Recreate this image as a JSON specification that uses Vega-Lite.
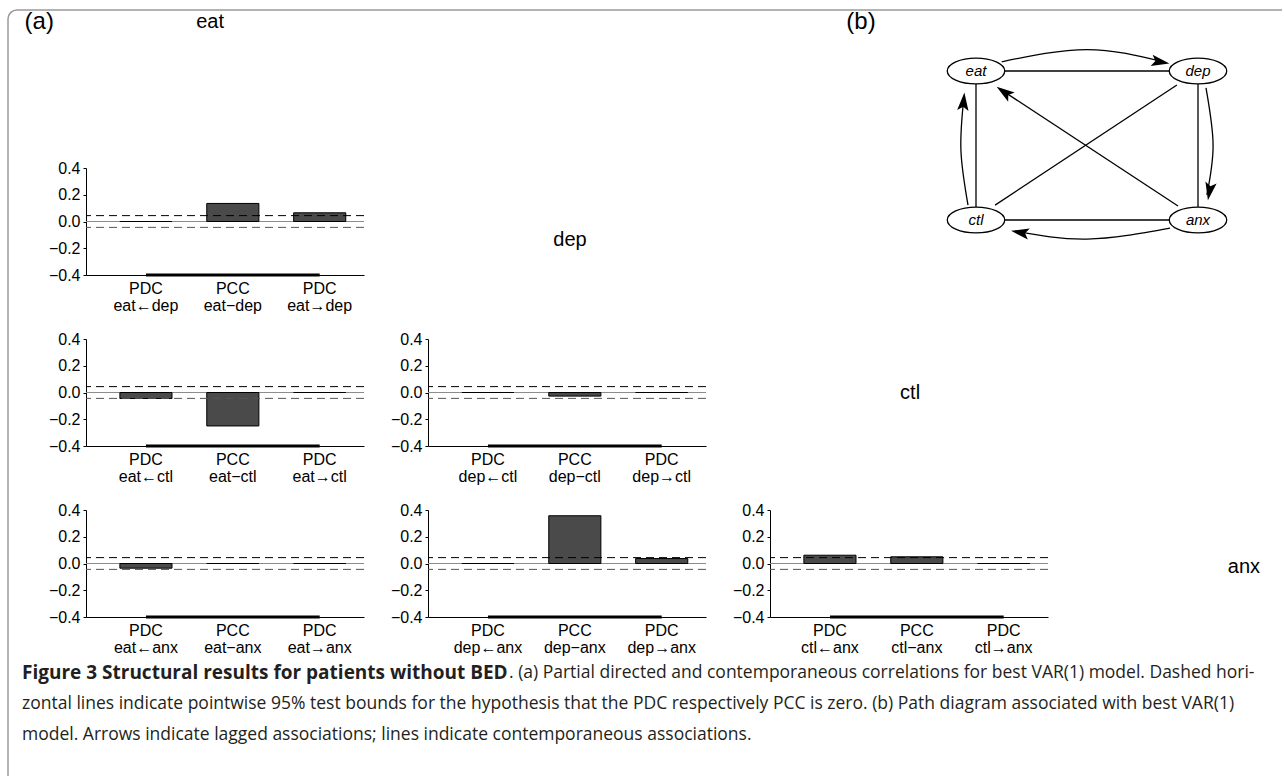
{
  "$schema": "https://vega.github.io/schema/vega-lite/v6.json",
  "padding": {"left": 7, "top": 9, "right": 0, "bottom": 0},
  "background": "white",
  "columns": 4,
  "spacing": {"row": 64, "column": 64},
  "bounds": "flush",
  "align": "each",
  "config": {
    "view": {"stroke": null},
    "axis": {"labelFont": "Liberation Sans", "labelFontSize": 16, "labelColor": "#000", "domainColor": "#000", "tickColor": "#000", "grid": false, "labelOverlap": false},
    "text": {"font": "Liberation Sans", "color": "#000"}
  },
  "datasets": {
    "bars": [
      {"pair": "eat-dep", "cat": "PDC|eat←dep", "value": 0},
      {"pair": "eat-dep", "cat": "PCC|eat−dep", "value": 0.135},
      {"pair": "eat-dep", "cat": "PDC|eat→dep", "value": 0.065},
      {"pair": "eat-ctl", "cat": "PDC|eat←ctl", "value": -0.045},
      {"pair": "eat-ctl", "cat": "PCC|eat−ctl", "value": -0.25},
      {"pair": "eat-ctl", "cat": "PDC|eat→ctl", "value": 0},
      {"pair": "dep-ctl", "cat": "PDC|dep←ctl", "value": 0},
      {"pair": "dep-ctl", "cat": "PCC|dep−ctl", "value": -0.027},
      {"pair": "dep-ctl", "cat": "PDC|dep→ctl", "value": 0},
      {"pair": "eat-anx", "cat": "PDC|eat←anx", "value": -0.035},
      {"pair": "eat-anx", "cat": "PCC|eat−anx", "value": 0},
      {"pair": "eat-anx", "cat": "PDC|eat→anx", "value": 0},
      {"pair": "dep-anx", "cat": "PDC|dep←anx", "value": 0},
      {"pair": "dep-anx", "cat": "PCC|dep−anx", "value": 0.357},
      {"pair": "dep-anx", "cat": "PDC|dep→anx", "value": 0.037},
      {"pair": "ctl-anx", "cat": "PDC|ctl←anx", "value": 0.062},
      {"pair": "ctl-anx", "cat": "PCC|ctl−anx", "value": 0.05},
      {"pair": "ctl-anx", "cat": "PDC|ctl→anx", "value": 0}
    ],
    "nodes": [
      {"name": "eat", "x": 0, "y": 1},
      {"name": "dep", "x": 1, "y": 1},
      {"name": "ctl", "x": 0, "y": 0},
      {"name": "anx", "x": 1, "y": 0}
    ],
    "edges": [
      {"e": "e1", "i": 0, "x": 0.128, "y": 1}, {"e": "e1", "i": 1, "x": 0.872, "y": 1},
      {"e": "e2", "i": 0, "x": 0.128, "y": 0}, {"e": "e2", "i": 1, "x": 0.872, "y": 0},
      {"e": "e3", "i": 0, "x": 0, "y": 0.916}, {"e": "e3", "i": 1, "x": 0, "y": 0.084},
      {"e": "e4", "i": 0, "x": 1, "y": 0.916}, {"e": "e4", "i": 1, "x": 1, "y": 0.084},
      {"e": "e5", "i": 0, "x": 0.905, "y": 0.906}, {"e": "e5", "i": 1, "x": 0.086, "y": 0.1},
      {"e": "e6", "i": 0, "x": 0.91, "y": 0.094}, {"e": "e6", "i": 1, "x": 0.108, "y": 0.879},
      {"e": "a1", "i": 0, "x": 0.116, "y": 1.062}, {"e": "a1", "i": 1, "x": 0.5, "y": 1.144}, {"e": "a1", "i": 2, "x": 0.842, "y": 1.062},
      {"e": "a2", "i": 0, "x": 1.036, "y": 0.886}, {"e": "a2", "i": 1, "x": 1.068, "y": 0.503}, {"e": "a2", "i": 2, "x": 1.04, "y": 0.168},
      {"e": "a3", "i": 0, "x": 0.874, "y": -0.054}, {"e": "a3", "i": 1, "x": 0.5, "y": -0.128}, {"e": "a3", "i": 2, "x": 0.176, "y": -0.074},
      {"e": "a4", "i": 0, "x": -0.036, "y": 0.1}, {"e": "a4", "i": 1, "x": -0.068, "y": 0.47}, {"e": "a4", "i": 2, "x": -0.054, "y": 0.832}
    ],
    "heads": [
      {"x": 0.829, "y": 1.062, "a": 100},
      {"x": 1.052, "y": 0.195, "a": 190},
      {"x": 0.2, "y": -0.084, "a": 280},
      {"x": -0.056, "y": 0.792, "a": 5},
      {"x": 0.128, "y": 0.857, "a": 305}
    ],
    "caption": [
      {"line": 1, "part": "b", "text": "Figure 3 Structural results for patients without BED"},
      {"line": 1, "part": "r", "text": ". (a) Partial directed and contemporaneous correlations for best VAR(1) model. Dashed hori-"},
      {"line": 2, "part": "l", "text": "zontal lines indicate pointwise 95% test bounds for the hypothesis that the PDC respectively PCC is zero. (b) Path diagram associated with best VAR(1)"},
      {"line": 3, "part": "l", "text": "model. Arrows indicate lagged associations; lines indicate contemporaneous associations."}
    ]
  },
  "concat": [
    {
      "width": 278, "height": 90,
      "data": {"values": [{}]},
      "layer": [
        {"mark": {"type": "rule", "color": "#9a9a9a", "strokeWidth": 1.5},
         "encoding": {"x": {"datum": 0, "type": "quantitative", "scale": {"domain": [0, 1], "range": [-78, 1196]}, "axis": null},
                      "y": {"datum": 0, "type": "quantitative", "scale": {"domain": [0, 1], "range": [762, -4]}, "axis": null},
                      "y2": {"datum": 0.98825}}},
        {"mark": {"type": "rule", "color": "#9a9a9a", "strokeWidth": 1.5},
         "encoding": {"x": {"datum": 0.00706, "type": "quantitative"}, "x2": {"datum": 1}, "y": {"datum": 1, "type": "quantitative"}}},
        {"mark": {"type": "arc", "color": "#9a9a9a", "innerRadius": 8.25, "outerRadius": 9.75, "theta": 4.7124, "theta2": 6.2832},
         "encoding": {"x": {"datum": 0.00706, "type": "quantitative"}, "y": {"datum": 0.98825, "type": "quantitative"}}},
        {"mark": {"type": "text", "fontSize": 24, "align": "center", "baseline": "middle"},
         "encoding": {"x": {"datum": 0.0245, "type": "quantitative"}, "y": {"datum": 0.9843, "type": "quantitative"}, "text": {"value": "(a)"}}},
        {"mark": {"type": "text", "fontSize": 20, "align": "center", "baseline": "middle"},
         "encoding": {"x": {"datum": 0.1586, "type": "quantitative"}, "y": {"datum": 0.9843, "type": "quantitative"}, "text": {"value": "eat"}}}
      ]
    },
    {"width": 278, "height": 90, "data": {"values": [{}]}, "mark": {"type": "point", "opacity": 0}},
    {
      "width": 278, "height": 90,
      "layer": [
        {"data": {"name": "edges"},
         "mark": {"type": "line", "color": "#000", "strokeWidth": 1.3, "interpolate": "natural"},
         "encoding": {"x": {"field": "x", "type": "quantitative", "scale": {"domain": [0, 1], "range": [206, 428]}, "axis": null},
                      "y": {"field": "y", "type": "quantitative", "scale": {"domain": [0, 1], "range": [206, 57]}, "axis": null},
                      "detail": {"field": "e"},
                      "order": {"field": "i"}}},
        {"data": {"name": "heads"},
         "mark": {"type": "point", "shape": "M0,-1L0.6,0.9L0,0.5L-0.6,0.9Z", "filled": true, "color": "#000", "size": 360, "opacity": 1},
         "encoding": {"x": {"field": "x", "type": "quantitative"}, "y": {"field": "y", "type": "quantitative"},
                      "angle": {"field": "a", "type": "quantitative", "scale": null}}},
        {"data": {"name": "nodes"},
         "mark": {"type": "point", "shape": "M-1,0A1,0.45,0,1,1,1,0A1,0.45,0,1,1,-1,0Z", "filled": true, "fill": "#fff", "stroke": "#000", "strokeWidth": 1.3, "size": 3300, "opacity": 1},
         "encoding": {"x": {"field": "x", "type": "quantitative"}, "y": {"field": "y", "type": "quantitative"}}},
        {"data": {"name": "nodes"},
         "mark": {"type": "text", "fontStyle": "italic", "fontSize": 15, "align": "center", "baseline": "middle"},
         "encoding": {"x": {"field": "x", "type": "quantitative"}, "y": {"field": "y", "type": "quantitative"}, "text": {"field": "name"}}},
        {"data": {"values": [{}]},
         "mark": {"type": "text", "fontSize": 24, "align": "center", "baseline": "middle"},
         "encoding": {"x": {"datum": -0.518, "type": "quantitative"}, "y": {"datum": 1.329, "type": "quantitative"}, "text": {"value": "(b)"}}}
      ]
    },
    {"width": 266, "height": 90, "data": {"values": [{}]}, "mark": {"type": "point", "opacity": 0}},

    {
      "width": 278, "height": 107,
      "layer": [
        {"data": {"values": [{}]}, "mark": {"type": "rule", "color": "#8c8c8c", "strokeWidth": 1},
         "encoding": {"y": {"datum": 0, "type": "quantitative", "scale": {"domain": [-0.4, 0.4], "nice": false},
                            "axis": {"title": null, "values": [-0.4, -0.2, 0, 0.2, 0.4], "tickCount": 5, "format": ".1f", "tickSize": 3, "labelPadding": 3, "labelOverlap": false}}}},
        {"data": {"name": "bars"}, "transform": [{"filter": "datum.pair === 'eat-dep'"}],
         "mark": {"type": "bar", "fill": "#4a4a4a", "stroke": "#000", "strokeWidth": 1},
         "encoding": {
           "x": {"field": "cat", "type": "nominal", "sort": null, "scale": {"paddingInner": 0.4, "paddingOuter": 0.3, "align": 0.65},
                 "axis": {"title": null, "labelAngle": 0, "labelExpr": "split(datum.label, '|')", "labelPadding": 5, "labelLineHeight": 17, "ticks": false}},
           "y": {"field": "value", "type": "quantitative",
                 "axis": {"title": null, "values": [-0.4, -0.2, 0, 0.2, 0.4], "tickCount": 5, "format": ".1f", "tickSize": 3, "labelPadding": 3, "labelOverlap": false}}}},
        {"data": {"values": [{}]}, "mark": {"type": "rule", "color": "#000", "strokeDash": [8, 5], "strokeWidth": 1}, "encoding": {"y": {"datum": 0.044, "type": "quantitative"}}},
        {"data": {"values": [{}]}, "mark": {"type": "rule", "color": "#555", "strokeDash": [8, 5], "strokeWidth": 1}, "encoding": {"y": {"datum": -0.044, "type": "quantitative"}}},
        {"data": {"name": "bars"}, "transform": [{"filter": "datum.pair === 'eat-dep'"}],
         "mark": {"type": "line", "color": "#000", "strokeWidth": 3},
         "encoding": {"x": {"field": "cat", "type": "nominal", "sort": null, "axis": {"title": null}}, "y": {"datum": -0.4, "type": "quantitative"}}}
      ]
    },
    {"width": 278, "height": 107, "data": {"values": [{}]},
     "mark": {"type": "text", "fontSize": 20, "align": "center", "baseline": "middle"},
     "encoding": {"x": {"datum": 0.511, "type": "quantitative", "scale": {"domain": [0, 1]}, "axis": null},
                  "y": {"datum": 0.327, "type": "quantitative", "scale": {"domain": [0, 1]}, "axis": null},
                  "text": {"value": "dep"}}},
    {"width": 278, "height": 107, "data": {"values": [{}]}, "mark": {"type": "point", "opacity": 0}},
    {"width": 266, "height": 107, "data": {"values": [{}]}, "mark": {"type": "point", "opacity": 0}},

    {
      "width": 278, "height": 107,
      "layer": [
        {"data": {"values": [{}]}, "mark": {"type": "rule", "color": "#8c8c8c", "strokeWidth": 1},
         "encoding": {"y": {"datum": 0, "type": "quantitative", "scale": {"domain": [-0.4, 0.4], "nice": false},
                            "axis": {"title": null, "values": [-0.4, -0.2, 0, 0.2, 0.4], "tickCount": 5, "format": ".1f", "tickSize": 3, "labelPadding": 3, "labelOverlap": false}}}},
        {"data": {"name": "bars"}, "transform": [{"filter": "datum.pair === 'eat-ctl'"}],
         "mark": {"type": "bar", "fill": "#4a4a4a", "stroke": "#000", "strokeWidth": 1},
         "encoding": {
           "x": {"field": "cat", "type": "nominal", "sort": null, "scale": {"paddingInner": 0.4, "paddingOuter": 0.3, "align": 0.65},
                 "axis": {"title": null, "labelAngle": 0, "labelExpr": "split(datum.label, '|')", "labelPadding": 5, "labelLineHeight": 17, "ticks": false}},
           "y": {"field": "value", "type": "quantitative",
                 "axis": {"title": null, "values": [-0.4, -0.2, 0, 0.2, 0.4], "tickCount": 5, "format": ".1f", "tickSize": 3, "labelPadding": 3, "labelOverlap": false}}}},
        {"data": {"values": [{}]}, "mark": {"type": "rule", "color": "#000", "strokeDash": [8, 5], "strokeWidth": 1}, "encoding": {"y": {"datum": 0.044, "type": "quantitative"}}},
        {"data": {"values": [{}]}, "mark": {"type": "rule", "color": "#555", "strokeDash": [8, 5], "strokeWidth": 1}, "encoding": {"y": {"datum": -0.044, "type": "quantitative"}}},
        {"data": {"name": "bars"}, "transform": [{"filter": "datum.pair === 'eat-ctl'"}],
         "mark": {"type": "line", "color": "#000", "strokeWidth": 3},
         "encoding": {"x": {"field": "cat", "type": "nominal", "sort": null, "axis": {"title": null}}, "y": {"datum": -0.4, "type": "quantitative"}}}
      ]
    },
    {
      "width": 278, "height": 107,
      "layer": [
        {"data": {"values": [{}]}, "mark": {"type": "rule", "color": "#8c8c8c", "strokeWidth": 1},
         "encoding": {"y": {"datum": 0, "type": "quantitative", "scale": {"domain": [-0.4, 0.4], "nice": false},
                            "axis": {"title": null, "values": [-0.4, -0.2, 0, 0.2, 0.4], "tickCount": 5, "format": ".1f", "tickSize": 3, "labelPadding": 3, "labelOverlap": false}}}},
        {"data": {"name": "bars"}, "transform": [{"filter": "datum.pair === 'dep-ctl'"}],
         "mark": {"type": "bar", "fill": "#4a4a4a", "stroke": "#000", "strokeWidth": 1},
         "encoding": {
           "x": {"field": "cat", "type": "nominal", "sort": null, "scale": {"paddingInner": 0.4, "paddingOuter": 0.3, "align": 0.65},
                 "axis": {"title": null, "labelAngle": 0, "labelExpr": "split(datum.label, '|')", "labelPadding": 5, "labelLineHeight": 17, "ticks": false}},
           "y": {"field": "value", "type": "quantitative",
                 "axis": {"title": null, "values": [-0.4, -0.2, 0, 0.2, 0.4], "tickCount": 5, "format": ".1f", "tickSize": 3, "labelPadding": 3, "labelOverlap": false}}}},
        {"data": {"values": [{}]}, "mark": {"type": "rule", "color": "#000", "strokeDash": [8, 5], "strokeWidth": 1}, "encoding": {"y": {"datum": 0.044, "type": "quantitative"}}},
        {"data": {"values": [{}]}, "mark": {"type": "rule", "color": "#555", "strokeDash": [8, 5], "strokeWidth": 1}, "encoding": {"y": {"datum": -0.044, "type": "quantitative"}}},
        {"data": {"name": "bars"}, "transform": [{"filter": "datum.pair === 'dep-ctl'"}],
         "mark": {"type": "line", "color": "#000", "strokeWidth": 3},
         "encoding": {"x": {"field": "cat", "type": "nominal", "sort": null, "axis": {"title": null}}, "y": {"datum": -0.4, "type": "quantitative"}}}
      ]
    },
    {"width": 278, "height": 107, "data": {"values": [{}]},
     "mark": {"type": "text", "fontSize": 20, "align": "center", "baseline": "middle"},
     "encoding": {"x": {"datum": 0.504, "type": "quantitative", "scale": {"domain": [0, 1]}, "axis": null},
                  "y": {"datum": 0.495, "type": "quantitative", "scale": {"domain": [0, 1]}, "axis": null},
                  "text": {"value": "ctl"}}},
    {"width": 266, "height": 107, "data": {"values": [{}]}, "mark": {"type": "point", "opacity": 0}},

    {
      "width": 278, "height": 107,
      "layer": [
        {"data": {"values": [{}]}, "mark": {"type": "rule", "color": "#8c8c8c", "strokeWidth": 1},
         "encoding": {"y": {"datum": 0, "type": "quantitative", "scale": {"domain": [-0.4, 0.4], "nice": false},
                            "axis": {"title": null, "values": [-0.4, -0.2, 0, 0.2, 0.4], "tickCount": 5, "format": ".1f", "tickSize": 3, "labelPadding": 3, "labelOverlap": false}}}},
        {"data": {"name": "bars"}, "transform": [{"filter": "datum.pair === 'eat-anx'"}],
         "mark": {"type": "bar", "fill": "#4a4a4a", "stroke": "#000", "strokeWidth": 1},
         "encoding": {
           "x": {"field": "cat", "type": "nominal", "sort": null, "scale": {"paddingInner": 0.4, "paddingOuter": 0.3, "align": 0.65},
                 "axis": {"title": null, "labelAngle": 0, "labelExpr": "split(datum.label, '|')", "labelPadding": 5, "labelLineHeight": 17, "ticks": false}},
           "y": {"field": "value", "type": "quantitative",
                 "axis": {"title": null, "values": [-0.4, -0.2, 0, 0.2, 0.4], "tickCount": 5, "format": ".1f", "tickSize": 3, "labelPadding": 3, "labelOverlap": false}}}},
        {"data": {"values": [{}]}, "mark": {"type": "rule", "color": "#000", "strokeDash": [8, 5], "strokeWidth": 1}, "encoding": {"y": {"datum": 0.044, "type": "quantitative"}}},
        {"data": {"values": [{}]}, "mark": {"type": "rule", "color": "#555", "strokeDash": [8, 5], "strokeWidth": 1}, "encoding": {"y": {"datum": -0.044, "type": "quantitative"}}},
        {"data": {"name": "bars"}, "transform": [{"filter": "datum.pair === 'eat-anx'"}],
         "mark": {"type": "line", "color": "#000", "strokeWidth": 3},
         "encoding": {"x": {"field": "cat", "type": "nominal", "sort": null, "axis": {"title": null}}, "y": {"datum": -0.4, "type": "quantitative"}}}
      ]
    },
    {
      "width": 278, "height": 107,
      "layer": [
        {"data": {"values": [{}]}, "mark": {"type": "rule", "color": "#8c8c8c", "strokeWidth": 1},
         "encoding": {"y": {"datum": 0, "type": "quantitative", "scale": {"domain": [-0.4, 0.4], "nice": false},
                            "axis": {"title": null, "values": [-0.4, -0.2, 0, 0.2, 0.4], "tickCount": 5, "format": ".1f", "tickSize": 3, "labelPadding": 3, "labelOverlap": false}}}},
        {"data": {"name": "bars"}, "transform": [{"filter": "datum.pair === 'dep-anx'"}],
         "mark": {"type": "bar", "fill": "#4a4a4a", "stroke": "#000", "strokeWidth": 1},
         "encoding": {
           "x": {"field": "cat", "type": "nominal", "sort": null, "scale": {"paddingInner": 0.4, "paddingOuter": 0.3, "align": 0.65},
                 "axis": {"title": null, "labelAngle": 0, "labelExpr": "split(datum.label, '|')", "labelPadding": 5, "labelLineHeight": 17, "ticks": false}},
           "y": {"field": "value", "type": "quantitative",
                 "axis": {"title": null, "values": [-0.4, -0.2, 0, 0.2, 0.4], "tickCount": 5, "format": ".1f", "tickSize": 3, "labelPadding": 3, "labelOverlap": false}}}},
        {"data": {"values": [{}]}, "mark": {"type": "rule", "color": "#000", "strokeDash": [8, 5], "strokeWidth": 1}, "encoding": {"y": {"datum": 0.044, "type": "quantitative"}}},
        {"data": {"values": [{}]}, "mark": {"type": "rule", "color": "#555", "strokeDash": [8, 5], "strokeWidth": 1}, "encoding": {"y": {"datum": -0.044, "type": "quantitative"}}},
        {"data": {"name": "bars"}, "transform": [{"filter": "datum.pair === 'dep-anx'"}],
         "mark": {"type": "line", "color": "#000", "strokeWidth": 3},
         "encoding": {"x": {"field": "cat", "type": "nominal", "sort": null, "axis": {"title": null}}, "y": {"datum": -0.4, "type": "quantitative"}}}
      ]
    },
    {
      "width": 278, "height": 107,
      "layer": [
        {"data": {"values": [{}]}, "mark": {"type": "rule", "color": "#8c8c8c", "strokeWidth": 1},
         "encoding": {"y": {"datum": 0, "type": "quantitative", "scale": {"domain": [-0.4, 0.4], "nice": false},
                            "axis": {"title": null, "values": [-0.4, -0.2, 0, 0.2, 0.4], "tickCount": 5, "format": ".1f", "tickSize": 3, "labelPadding": 3, "labelOverlap": false}}}},
        {"data": {"name": "bars"}, "transform": [{"filter": "datum.pair === 'ctl-anx'"}],
         "mark": {"type": "bar", "fill": "#4a4a4a", "stroke": "#000", "strokeWidth": 1},
         "encoding": {
           "x": {"field": "cat", "type": "nominal", "sort": null, "scale": {"paddingInner": 0.4, "paddingOuter": 0.3, "align": 0.65},
                 "axis": {"title": null, "labelAngle": 0, "labelExpr": "split(datum.label, '|')", "labelPadding": 5, "labelLineHeight": 17, "ticks": false}},
           "y": {"field": "value", "type": "quantitative",
                 "axis": {"title": null, "values": [-0.4, -0.2, 0, 0.2, 0.4], "tickCount": 5, "format": ".1f", "tickSize": 3, "labelPadding": 3, "labelOverlap": false}}}},
        {"data": {"values": [{}]}, "mark": {"type": "rule", "color": "#000", "strokeDash": [8, 5], "strokeWidth": 1}, "encoding": {"y": {"datum": 0.044, "type": "quantitative"}}},
        {"data": {"values": [{}]}, "mark": {"type": "rule", "color": "#555", "strokeDash": [8, 5], "strokeWidth": 1}, "encoding": {"y": {"datum": -0.044, "type": "quantitative"}}},
        {"data": {"name": "bars"}, "transform": [{"filter": "datum.pair === 'ctl-anx'"}],
         "mark": {"type": "line", "color": "#000", "strokeWidth": 3},
         "encoding": {"x": {"field": "cat", "type": "nominal", "sort": null, "axis": {"title": null}}, "y": {"datum": -0.4, "type": "quantitative"}}}
      ]
    },
    {"width": 266, "height": 107, "data": {"values": [{}]},
     "mark": {"type": "text", "fontSize": 20, "align": "center", "baseline": "middle"},
     "encoding": {"x": {"datum": 0.496, "type": "quantitative", "scale": {"domain": [0, 1]}, "axis": null},
                  "y": {"datum": 0.467, "type": "quantitative", "scale": {"domain": [0, 1]}, "axis": null},
                  "text": {"value": "anx"}}},

    {
      "width": 278, "height": 62,
      "data": {"name": "caption"},
      "layer": [
        {"transform": [{"filter": "datum.part === 'b'"}],
         "mark": {"type": "text", "align": "left", "baseline": "middle", "font": "Open Sans", "fontSize": 19, "fontWeight": "bold", "color": "#231f20"},
         "encoding": {"x": {"datum": 0, "type": "quantitative", "scale": {"domain": [0, 1], "range": [-64, 1172]}, "axis": null},
                      "y": {"field": "line", "type": "quantitative", "scale": {"domain": [1, 3], "range": [-8, 54]}, "axis": null},
                      "text": {"field": "text"}}},
        {"transform": [{"filter": "datum.part === 'r'"}],
         "mark": {"type": "text", "align": "left", "baseline": "middle", "font": "Open Sans", "fontSize": 17.5, "color": "#231f20"},
         "encoding": {"x": {"datum": 0.394, "type": "quantitative"},
                      "y": {"field": "line", "type": "quantitative"},
                      "text": {"field": "text"}}},
        {"transform": [{"filter": "datum.part === 'l'"}],
         "mark": {"type": "text", "align": "left", "baseline": "middle", "font": "Open Sans", "fontSize": 17.5, "color": "#231f20"},
         "encoding": {"x": {"datum": 0, "type": "quantitative"},
                      "y": {"field": "line", "type": "quantitative"},
                      "text": {"field": "text"}}}
      ]
    }
  ]
}
